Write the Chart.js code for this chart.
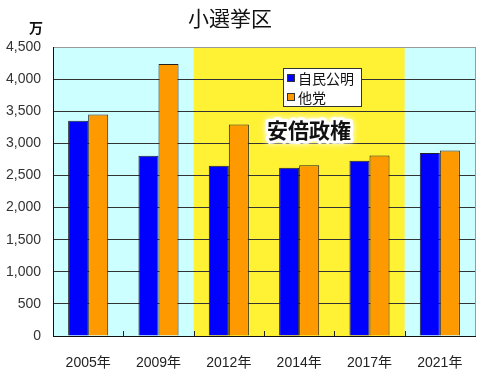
<!DOCTYPE html>
<html>
<head>
<meta charset="utf-8">
<script src="https://cdn.jsdelivr.net/npm/chart.js@4.4.1/dist/chart.umd.min.js"></script>
<style>
  html, body { margin:0; padding:0; background:#fff; }
</style>
</head>
<body>
<canvas id="c" width="480" height="371"></canvas>
<script>
// data (単位: 万票)
const years = ['2005年', '2009年', '2012年', '2014年', '2017年', '2021年'];
const ruling = [3350, 2808, 2650, 2620, 2730, 2850];   // 自民公明
const others = [3450, 4235, 3295, 2660, 2810, 2890];   // 他党
const seriesNames = ['自民公明', '他党'];
const abeFrom = '2012年', abeTo = '2017年';
const yMax = 4500, yStep = 500;

const FONT = "'Liberation Sans', 'Noto Sans CJK JP', sans-serif";
const CJK = "'Noto Sans CJK JP', sans-serif";
const BLUE = '#0000ff', ORANGE = '#ff9900';
const CYAN = '#ccffff', YELLOW = '#fff235';

// background bands + inside tick marks + labels
const decor = {
  id: 'decor',
  beforeDraw(chart){
    const { ctx, chartArea:a, scales:{ x } } = chart;
    const half = (x.getPixelForValue(1) - x.getPixelForValue(0)) / 2;
    ctx.save();
    ctx.fillStyle = CYAN;
    ctx.fillRect(a.left, a.top, a.right - a.left, a.bottom - a.top);
    const x0 = x.getPixelForValue(years.indexOf(abeFrom)) - half;
    const x1 = x.getPixelForValue(years.indexOf(abeTo)) + half;
    ctx.fillStyle = YELLOW;
    ctx.fillRect(x0, a.top, x1 - x0, a.bottom - a.top);
    ctx.restore();
  },
  afterDraw(chart){
    const { ctx, chartArea:a, scales:{ x } } = chart;
    const half = (x.getPixelForValue(1) - x.getPixelForValue(0)) / 2;
    ctx.save();
    // right border
    ctx.strokeStyle = '#9a9a9a'; ctx.lineWidth = 1;
    ctx.beginPath(); ctx.moveTo(a.right + 0.5, a.top); ctx.lineTo(a.right + 0.5, a.bottom); ctx.stroke();
    // small inside ticks between categories
    ctx.strokeStyle = '#222';
    for (let i = 0; i < years.length - 1; i++){
      const px = Math.round(x.getPixelForValue(i) + half) + 0.5;
      ctx.beginPath(); ctx.moveTo(px, a.bottom); ctx.lineTo(px, a.bottom - 5); ctx.stroke();
    }
    // title and unit
    ctx.fillStyle = '#111'; ctx.textAlign = 'center'; ctx.textBaseline = 'middle';
    ctx.font = '21px ' + CJK;
    ctx.fillText('小選挙区', 230, 18);
    ctx.font = 'bold 14px ' + CJK;
    ctx.fillText('万', 36, 28);

    // legend box
    const lx = 283, ly = 68, lw = 78, lh = 38;
    ctx.fillStyle = '#fff'; ctx.fillRect(lx, ly, lw, lh);
    ctx.strokeStyle = '#333'; ctx.strokeRect(lx + 0.5, ly + 0.5, lw, lh);
    ctx.textAlign = 'left'; ctx.font = '14px ' + CJK;
    chart.data.datasets.forEach((ds, i) => {
      const cy = ly + 10 + i * 19;
      ctx.fillStyle = ds.backgroundColor;
      ctx.fillRect(lx + 4, cy - 4, 7, 7);
      ctx.strokeStyle = '#333'; ctx.strokeRect(lx + 4.5, cy - 3.5, 7, 7);
      ctx.fillStyle = '#111';
      ctx.fillText(ds.label, lx + 15, cy + 1);
    });

    // 安倍政権 with white halo
    ctx.font = 'bold 21px ' + CJK; ctx.textAlign = 'center';
    ctx.lineJoin = 'round';
    ctx.shadowColor = '#fff'; ctx.shadowBlur = 6;
    ctx.strokeStyle = '#fff'; ctx.lineWidth = 6;
    ctx.strokeText('安倍政権', 309, 130);
    ctx.shadowBlur = 0;
    ctx.fillStyle = '#111';
    ctx.fillText('安倍政権', 309, 130);
    ctx.restore();
  }
};

new Chart(document.getElementById('c'), {
  type: 'bar',
  data: {
    labels: years,
    datasets: [
      { label: seriesNames[0], data: ruling, backgroundColor: BLUE, borderColor: '#222', borderWidth: 1 },
      { label: seriesNames[1], data: others, backgroundColor: ORANGE, borderColor: '#222', borderWidth: 1 }
    ]
  },
  options: {
    responsive: false,
    animation: false,
    devicePixelRatio: 1,
    layout: { padding: { top: 47, right: 5, left: 0, bottom: 0 } },
    datasets: { bar: { barPercentage: 1, categoryPercentage: 0.57 } },
    plugins: { legend: { display: false }, title: { display: false }, tooltip: { enabled: false } },
    scales: {
      x: {
        grid: { display: false },
        border: { display: true, color: '#111', width: 1 },
        ticks: { color: '#222', font: { family: FONT, size: 14 }, padding: 11 },
        afterFit(s){ s.height = 35; }
      },
      y: {
        min: 0, max: yMax,
        grid: { color: c => c.tick.value === yMax ? '#9a9a9a' : '#333', lineWidth: 1, drawTicks: false },
        border: { display: true, color: '#111', width: 1 },
        ticks: {
          stepSize: yStep, color: '#333', padding: 12,
          font: { family: FONT, size: 14 },
          callback: v => v.toLocaleString('en-US')
        },
        afterFit(s){ s.width = 53; }
      }
    }
  },
  plugins: [decor]
});
</script>
</body>
</html>
